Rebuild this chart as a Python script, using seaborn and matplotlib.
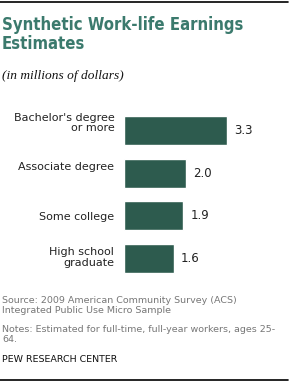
import matplotlib
matplotlib.use("Agg")
import matplotlib.pyplot as plt
import seaborn as sns
import pandas as pd
from matplotlib.lines import Line2D

categories = ["Bachelor's degree\nor more", "Associate degree", "Some college", "High school\ngraduate"]
values = [3.3, 2.0, 1.9, 1.6]
value_labels = ["3.3", "2.0", "1.9", "1.6"]

sns.set_theme(style="white")
plt.rcParams['font.family'] = ['DejaVu Sans']

df = pd.DataFrame({"cat": categories, "val": values})

W, H = 290, 381
fig = plt.figure(figsize=(W / 100, H / 100), dpi=100)
ax = fig.add_axes([124 / W, 1 - 280 / H, 140 / W, 171 / H])

sns.barplot(data=df, x="val", y="cat", orient="h", color="#2d5b4e",
            width=0.674, saturation=1, ax=ax)
ax.set_xlim(0, 4.49)
ax.set_ylim(3.5, -0.5)
for s in ax.spines.values():
    s.set_visible(False)
ax.set_xticks([])
ax.set_xlabel("")
ax.set_ylabel("")
# category labels sit slightly above the bar centres, as in the original
ax.set_yticks([-0.2, 0.83, 2.0, 2.95], labels=categories)
ax.tick_params(axis="y", length=0, pad=7)
for lab in ax.get_yticklabels():
    lab.set_fontsize(8.0)
    lab.set_color("#222222")
    lab.set_horizontalalignment("right")
    lab.set_linespacing(1.05)
ax.bar_label(ax.containers[0], labels=value_labels, padding=5, fontsize=8.5, color="#222222")

# header
fig.add_artist(Line2D([0, 288 / W], [1 - 1.5 / H, 1 - 1.5 / H], color="black", lw=1.2))
fig.text(2 / W, 1 - 16 / H, "Synthetic Work-life Earnings\nEstimates", fontsize=12,
         fontweight="bold", fontstretch="condensed", color="#3b7a6d", va="top", ha="left",
         linespacing=1.05)
fig.text(2 / W, 1 - 76 / H, "(in millions of dollars)", fontsize=9.6, style="italic",
         family="Liberation Serif", color="#111111", va="center", ha="left")

# footer
fig.text(2 / W, 1 - 305.5 / H, "Source: 2009 American Community Survey (ACS)\nIntegrated Public Use Micro Sample",
         fontsize=6.8, color="#777777", va="center", ha="left", linespacing=1.2)
fig.text(2 / W, 1 - 334.5 / H, "Notes: Estimated for full-time, full-year workers, ages 25-\n64.",
         fontsize=6.8, color="#777777", va="center", ha="left", linespacing=1.2)
fig.text(2 / W, 1 - 359 / H, "PEW RESEARCH CENTER", fontsize=6.8, color="#111111",
         va="center", ha="left")
fig.add_artist(Line2D([0, 288 / W], [1 - 379.5 / H, 1 - 379.5 / H], color="black", lw=1.2))

fig.savefig("out.png", dpi=100)
